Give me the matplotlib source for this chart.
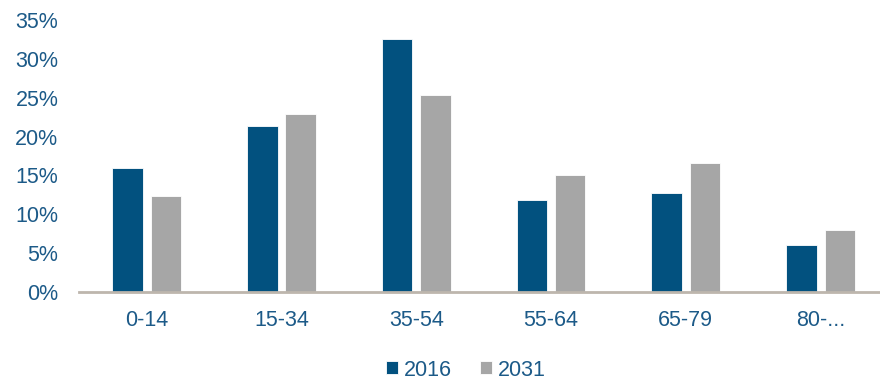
import numpy as np
import matplotlib
matplotlib.use("Agg")
import matplotlib.pyplot as plt
from matplotlib.ticker import FuncFormatter

# --- data ---
age_groups = ["0-14", "15-34", "35-54", "55-64", "65-79", "80-..."]
share_2016 = [16.0, 21.4, 32.5, 11.8, 12.7, 6.1]
share_2031 = [12.4, 22.9, 25.3, 15.1, 16.6, 8.0]
series_names = ["2016", "2031"]

blue = "#02517f"
grey = "#a6a6a6"
text_col = "#1c5a88"

plt.rcParams['font.family'] = ['Liberation Sans', 'DejaVu Sans']

fig = plt.figure(figsize=(8.8, 3.82), dpi=100)
ax = fig.add_axes([79.3 / 880, 1 - 292 / 382, (888 - 79.3) / 880, 272 / 382])

x = np.arange(len(age_groups))
w = 0.226
off = 0.142
b1 = ax.bar(x - off, share_2016, w, color=blue, edgecolor="white", linewidth=0.6,
            label=series_names[0], zorder=2)
b2 = ax.bar(x + off, share_2031, w, color=grey, edgecolor="white", linewidth=0.6,
            label=series_names[1], zorder=2)

ax.set_xlim(-0.5, len(age_groups) - 0.5)
ax.set_ylim(0, 35)
ax.set_yticks(np.arange(0, 36, 5))
ax.yaxis.set_major_formatter(FuncFormatter(lambda v, p: f"{v:.0f}%"))
ax.set_xticks(x)
ax.set_xticklabels(age_groups)

for s in ["top", "right", "left"]:
    ax.spines[s].set_visible(False)
ax.spines["bottom"].set_color("#bdb6ad")
ax.spines["bottom"].set_linewidth(2)
ax.spines["bottom"].set_zorder(3)

ax.tick_params(axis="both", length=0, labelsize=15.5, labelcolor=text_col)
ax.tick_params(axis="y", pad=15)
ax.tick_params(axis="x", pad=13)

fig.legend(handles=[b1, b2], labels=series_names, loc="center",
           bbox_to_anchor=(466 / 880, 1 - 370 / 382), ncol=2, frameon=False,
           fontsize=15.5, labelcolor=text_col, handlelength=0.55, handleheight=0.55,
           handletextpad=0.3, columnspacing=1.3)

fig.savefig("out.png", dpi=100)
